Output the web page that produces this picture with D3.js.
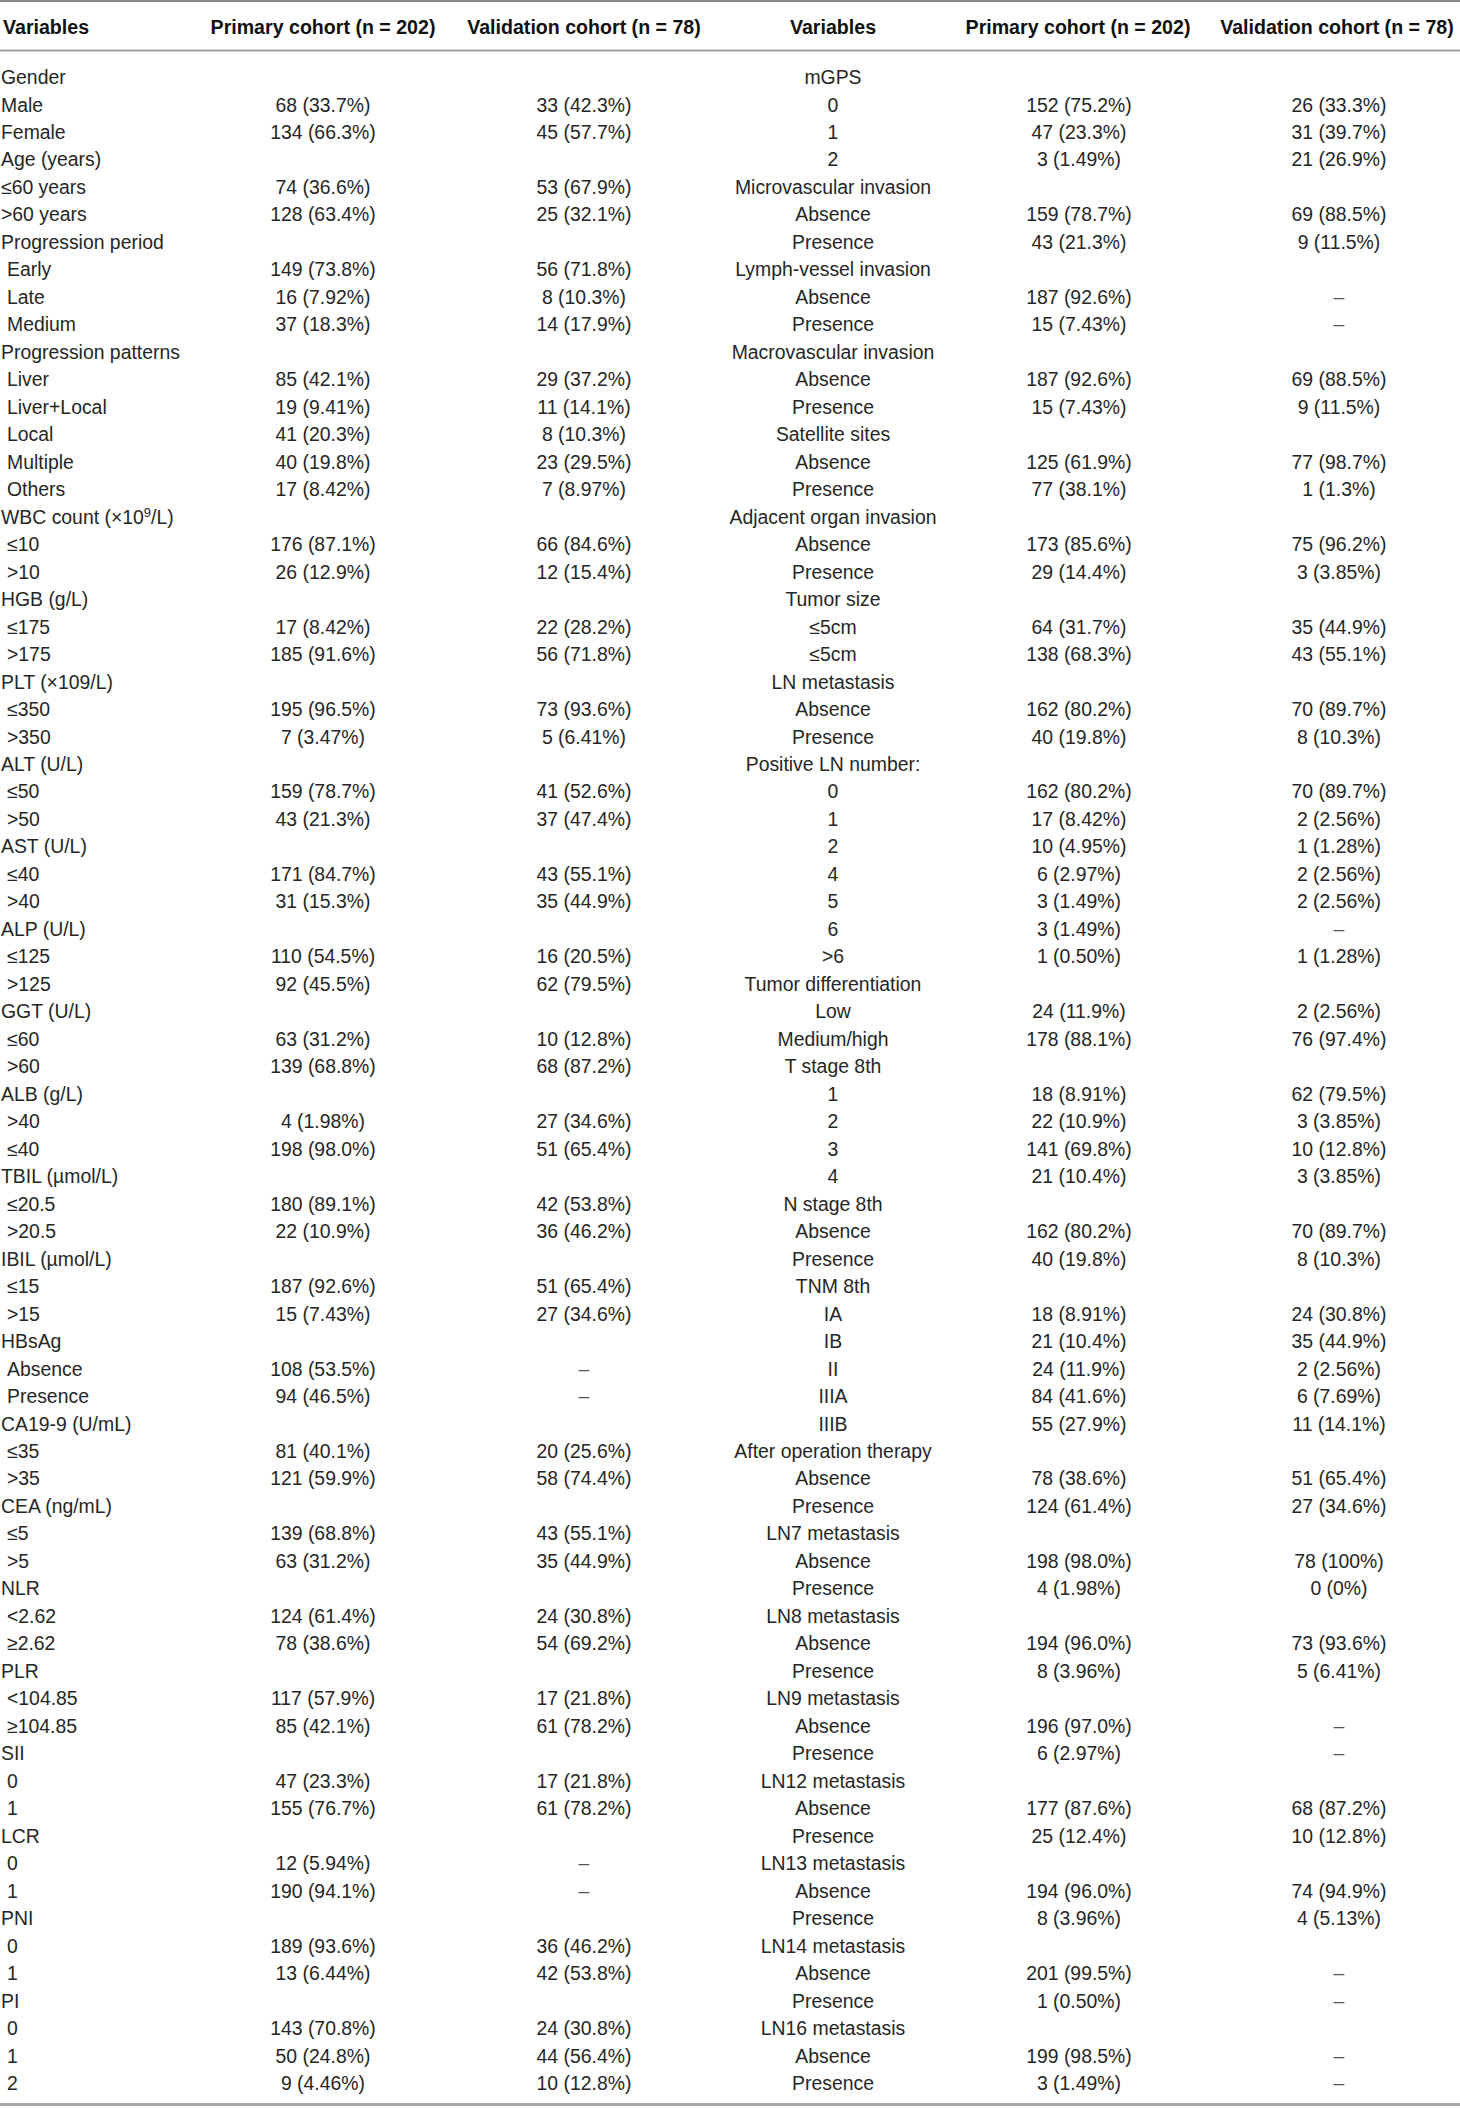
<!DOCTYPE html>
<html>
<head>
    <meta charset="utf-8">
    <title>Baseline characteristics</title>
    <script src="https://cdn.jsdelivr.net/npm/d3@7"></script>
    <style>
        body { margin: 0; background: #fff; }
        text { font-family: "Liberation Sans", Arial, Helvetica, sans-serif; fill: #262626; }
        .head { font-weight: bold; font-size: 19.6px; fill: #111; }
        .cell { font-size: 19.4px; }
        .dash { fill: #555; }
    </style>
</head>
<body>
<div id="chart"></div>
<script type="text/javascript">
    // column titles
    var headers = ["Variables", "Primary cohort (n = 202)", "Validation cohort (n = 78)",
        "Variables", "Primary cohort (n = 202)", "Validation cohort (n = 78)"];

    // left half of the table
    var leftVars = ["Gender", "Male", "Female", "Age (years)", "≤60 years", ">60 years",
        "Progression period", "Early", "Late", "Medium",
        "Progression patterns", "Liver", "Liver+Local", "Local", "Multiple", "Others",
        "WBC count (×10^9/L)", "≤10", ">10", "HGB (g/L)", "≤175", ">175",
        "PLT (×109/L)", "≤350", ">350", "ALT (U/L)", "≤50", ">50", "AST (U/L)", "≤40", ">40",
        "ALP (U/L)", "≤125", ">125", "GGT (U/L)", "≤60", ">60", "ALB (g/L)", ">40", "≤40",
        "TBIL (µmol/L)", "≤20.5", ">20.5", "IBIL (µmol/L)", "≤15", ">15",
        "HBsAg", "Absence", "Presence", "CA19-9 (U/mL)", "≤35", ">35", "CEA (ng/mL)", "≤5", ">5",
        "NLR", "<2.62", "≥2.62", "PLR", "<104.85", "≥104.85", "SII", "0", "1",
        "LCR", "0", "1", "PNI", "0", "1", "PI", "0", "1", "2"];
    var leftPrimary = ["", "68 (33.7%)", "134 (66.3%)", "", "74 (36.6%)", "128 (63.4%)",
        "", "149 (73.8%)", "16 (7.92%)", "37 (18.3%)",
        "", "85 (42.1%)", "19 (9.41%)", "41 (20.3%)", "40 (19.8%)", "17 (8.42%)",
        "", "176 (87.1%)", "26 (12.9%)", "", "17 (8.42%)", "185 (91.6%)",
        "", "195 (96.5%)", "7 (3.47%)", "", "159 (78.7%)", "43 (21.3%)", "", "171 (84.7%)", "31 (15.3%)",
        "", "110 (54.5%)", "92 (45.5%)", "", "63 (31.2%)", "139 (68.8%)", "", "4 (1.98%)", "198 (98.0%)",
        "", "180 (89.1%)", "22 (10.9%)", "", "187 (92.6%)", "15 (7.43%)",
        "", "108 (53.5%)", "94 (46.5%)", "", "81 (40.1%)", "121 (59.9%)", "", "139 (68.8%)", "63 (31.2%)",
        "", "124 (61.4%)", "78 (38.6%)", "", "117 (57.9%)", "85 (42.1%)", "", "47 (23.3%)", "155 (76.7%)",
        "", "12 (5.94%)", "190 (94.1%)", "", "189 (93.6%)", "13 (6.44%)", "", "143 (70.8%)", "50 (24.8%)", "9 (4.46%)"];
    var leftValidation = ["", "33 (42.3%)", "45 (57.7%)", "", "53 (67.9%)", "25 (32.1%)",
        "", "56 (71.8%)", "8 (10.3%)", "14 (17.9%)",
        "", "29 (37.2%)", "11 (14.1%)", "8 (10.3%)", "23 (29.5%)", "7 (8.97%)",
        "", "66 (84.6%)", "12 (15.4%)", "", "22 (28.2%)", "56 (71.8%)",
        "", "73 (93.6%)", "5 (6.41%)", "", "41 (52.6%)", "37 (47.4%)", "", "43 (55.1%)", "35 (44.9%)",
        "", "16 (20.5%)", "62 (79.5%)", "", "10 (12.8%)", "68 (87.2%)", "", "27 (34.6%)", "51 (65.4%)",
        "", "42 (53.8%)", "36 (46.2%)", "", "51 (65.4%)", "27 (34.6%)",
        "", "–", "–", "", "20 (25.6%)", "58 (74.4%)", "", "43 (55.1%)", "35 (44.9%)",
        "", "24 (30.8%)", "54 (69.2%)", "", "17 (21.8%)", "61 (78.2%)", "", "17 (21.8%)", "61 (78.2%)",
        "", "–", "–", "", "36 (46.2%)", "42 (53.8%)", "", "24 (30.8%)", "44 (56.4%)", "10 (12.8%)"];

    // right half of the table
    var rightVars = ["mGPS", "0", "1", "2", "Microvascular invasion", "Absence", "Presence",
        "Lymph-vessel invasion", "Absence", "Presence", "Macrovascular invasion", "Absence", "Presence",
        "Satellite sites", "Absence", "Presence", "Adjacent organ invasion", "Absence", "Presence",
        "Tumor size", "≤5cm", "≤5cm", "LN metastasis", "Absence", "Presence",
        "Positive LN number:", "0", "1", "2", "4", "5", "6", ">6",
        "Tumor differentiation", "Low", "Medium/high", "T stage 8th", "1", "2", "3", "4",
        "N stage 8th", "Absence", "Presence", "TNM 8th", "IA", "IB", "II", "IIIA", "IIIB",
        "After operation therapy", "Absence", "Presence", "LN7 metastasis", "Absence", "Presence",
        "LN8 metastasis", "Absence", "Presence", "LN9 metastasis", "Absence", "Presence",
        "LN12 metastasis", "Absence", "Presence", "LN13 metastasis", "Absence", "Presence",
        "LN14 metastasis", "Absence", "Presence", "LN16 metastasis", "Absence", "Presence"];
    var rightPrimary = ["", "152 (75.2%)", "47 (23.3%)", "3 (1.49%)", "", "159 (78.7%)", "43 (21.3%)",
        "", "187 (92.6%)", "15 (7.43%)", "", "187 (92.6%)", "15 (7.43%)",
        "", "125 (61.9%)", "77 (38.1%)", "", "173 (85.6%)", "29 (14.4%)",
        "", "64 (31.7%)", "138 (68.3%)", "", "162 (80.2%)", "40 (19.8%)",
        "", "162 (80.2%)", "17 (8.42%)", "10 (4.95%)", "6 (2.97%)", "3 (1.49%)", "3 (1.49%)", "1 (0.50%)",
        "", "24 (11.9%)", "178 (88.1%)", "", "18 (8.91%)", "22 (10.9%)", "141 (69.8%)", "21 (10.4%)",
        "", "162 (80.2%)", "40 (19.8%)", "", "18 (8.91%)", "21 (10.4%)", "24 (11.9%)", "84 (41.6%)", "55 (27.9%)",
        "", "78 (38.6%)", "124 (61.4%)", "", "198 (98.0%)", "4 (1.98%)",
        "", "194 (96.0%)", "8 (3.96%)", "", "196 (97.0%)", "6 (2.97%)",
        "", "177 (87.6%)", "25 (12.4%)", "", "194 (96.0%)", "8 (3.96%)",
        "", "201 (99.5%)", "1 (0.50%)", "", "199 (98.5%)", "3 (1.49%)"];
    var rightValidation = ["", "26 (33.3%)", "31 (39.7%)", "21 (26.9%)", "", "69 (88.5%)", "9 (11.5%)",
        "", "–", "–", "", "69 (88.5%)", "9 (11.5%)",
        "", "77 (98.7%)", "1 (1.3%)", "", "75 (96.2%)", "3 (3.85%)",
        "", "35 (44.9%)", "43 (55.1%)", "", "70 (89.7%)", "8 (10.3%)",
        "", "70 (89.7%)", "2 (2.56%)", "1 (1.28%)", "2 (2.56%)", "2 (2.56%)", "–", "1 (1.28%)",
        "", "2 (2.56%)", "76 (97.4%)", "", "62 (79.5%)", "3 (3.85%)", "10 (12.8%)", "3 (3.85%)",
        "", "70 (89.7%)", "8 (10.3%)", "", "24 (30.8%)", "35 (44.9%)", "2 (2.56%)", "6 (7.69%)", "11 (14.1%)",
        "", "51 (65.4%)", "27 (34.6%)", "", "78 (100%)", "0 (0%)",
        "", "73 (93.6%)", "5 (6.41%)", "", "–", "–",
        "", "68 (87.2%)", "10 (12.8%)", "", "74 (94.9%)", "4 (5.13%)",
        "", "–", "–", "", "–", "–"];

    // groups whose sub-rows are not indented
    var flatGroups = ["Gender", "Age (years)"];

    var W = 1460, H = 2108;
    // column anchors: [x, text-anchor]
    var cols = [[1, "start"], [323, "middle"], [584, "middle"], [833, "middle"], [1079, "middle"], [1339, "middle"]];
    var headCols = [[3, "start"], [323, "middle"], [584, "middle"], [833, "middle"], [1078, "middle"], [1337, "middle"]];

    var svg = d3.select("#chart").append("svg").attr("width", W).attr("height", H);

    var y = d3.scaleBand().domain(d3.range(leftVars.length)).range([63.3, 2096.8]).paddingInner(0);
    var yc = function (i) { return y(i) + y.bandwidth() / 2; };

    // rules
    svg.append("line").attr("x1", 0).attr("x2", W).attr("y1", 1).attr("y2", 1)
        .style("stroke", "#8a8a8a").style("stroke-width", 2);
    svg.append("line").attr("x1", 0).attr("x2", W).attr("y1", 50.5).attr("y2", 50.5)
        .style("stroke", "#a0a0a0").style("stroke-width", 2);
    svg.append("line").attr("x1", 0).attr("x2", W).attr("y1", 2104.5).attr("y2", 2104.5)
        .style("stroke", "#a8a8a8").style("stroke-width", 3);

    // header
    svg.append("g").selectAll("text").data(headers).enter().append("text")
        .attr("class", "head")
        .attr("x", function (d, i) { return headCols[i][0]; })
        .attr("y", 27).attr("dy", ".36em")
        .attr("text-anchor", function (d, i) { return headCols[i][1]; })
        .text(function (d) { return d; });

    // label writer, handles "^n" superscripts
    function writeLabel(sel, s) {
        var m = s.match(/^(.*)\^(\d+)(.*)$/);
        if (!m) { sel.text(s); return; }
        sel.append("tspan").text(m[1]);
        sel.append("tspan").attr("dy", "-7px").style("font-size", "13px").text(m[2]);
        sel.append("tspan").attr("dy", "7px").text(m[3]);
    }

    // build cell list from the arrays
    var cells = [], group = "";
    leftVars.forEach(function (v, i) {
        if (leftPrimary[i] === "") group = v;
        var indent = (leftPrimary[i] !== "" && flatGroups.indexOf(group) < 0) ? 6 : 0;
        cells.push({row: i, col: 0, text: v, dx: indent});
        cells.push({row: i, col: 1, text: leftPrimary[i], dx: 0});
        cells.push({row: i, col: 2, text: leftValidation[i], dx: 0});
    });
    rightVars.forEach(function (v, i) {
        cells.push({row: i, col: 3, text: v, dx: 0});
        cells.push({row: i, col: 4, text: rightPrimary[i], dx: 0});
        cells.push({row: i, col: 5, text: rightValidation[i], dx: 0});
    });
    cells = cells.filter(function (c) { return c.text !== ""; });

    svg.append("g").selectAll("text").data(cells).enter().append("text")
        .attr("class", function (c) { return c.text === "–" ? "cell dash" : "cell"; })
        .attr("x", function (c) { return cols[c.col][0] + c.dx; })
        .attr("y", function (c) { return yc(c.row); })
        .attr("dy", ".36em")
        .attr("text-anchor", function (c) { return cols[c.col][1]; })
        .each(function (c) { writeLabel(d3.select(this), c.text); });
</script>
</body>
</html>
